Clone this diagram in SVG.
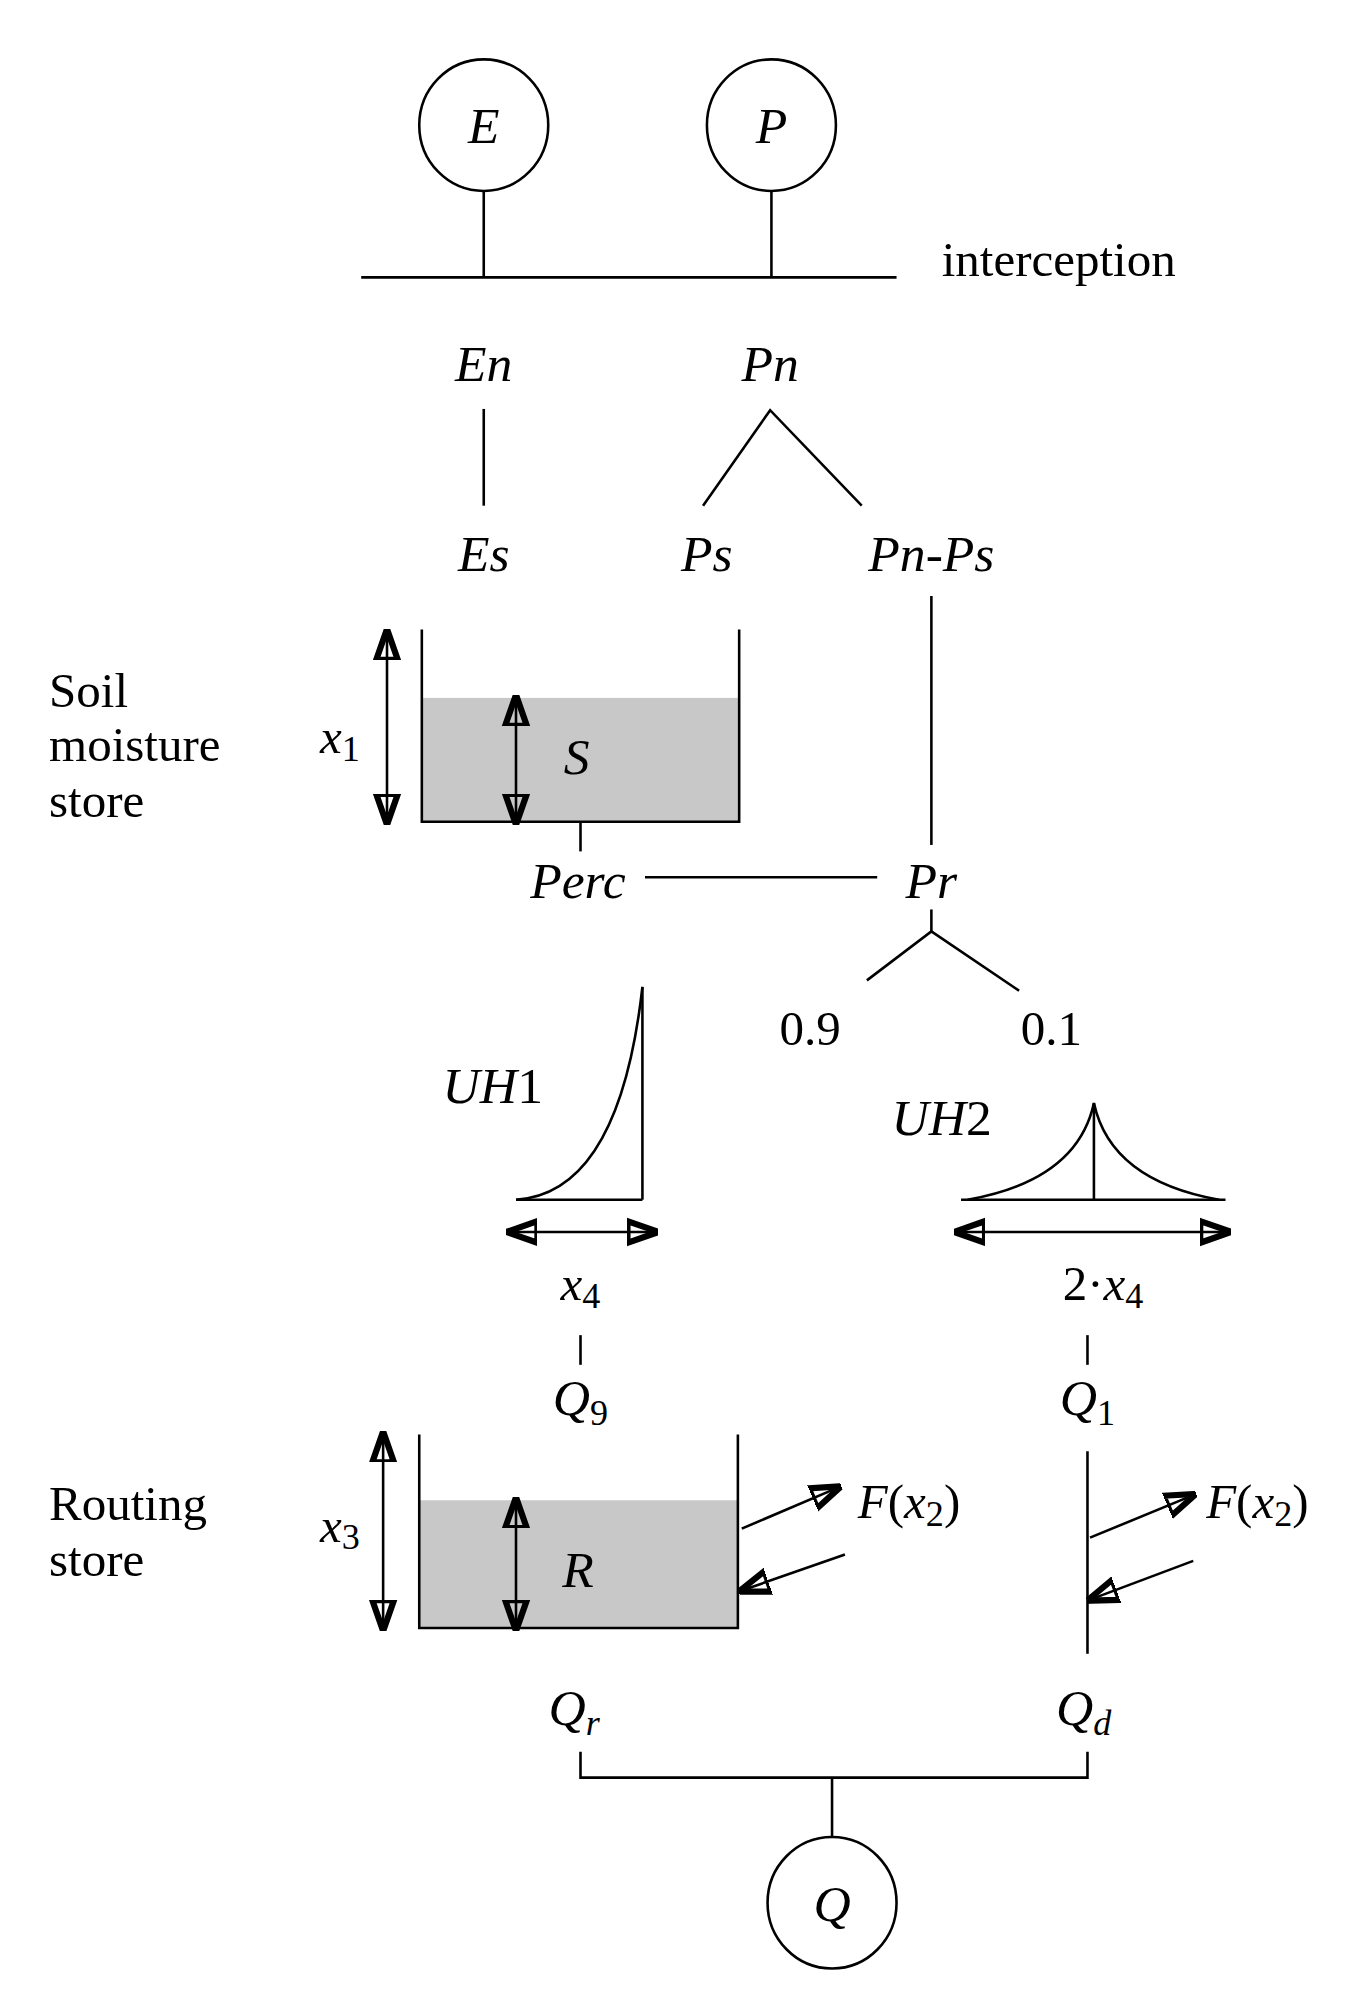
<svg xmlns="http://www.w3.org/2000/svg" width="1366" height="2016" viewBox="0 0 1366 2016">
<defs>
<marker id="ah" viewBox="0 0 10 10" refX="9" refY="5" markerWidth="10" markerHeight="10" markerUnits="userSpaceOnUse" orient="auto-start-reverse"><path d="M0,0 L10,5 L0,10 z" fill="#000"/></marker>
<marker id="ahb" viewBox="0 0 10 10" refX="9" refY="5" markerWidth="24" markerHeight="24" markerUnits="userSpaceOnUse" orient="auto-start-reverse"><path d="M0,1.5 L10,5 L0,8.5 z" fill="#000"/></marker>
<style>
text{font-family:"Liberation Serif",serif;fill:#000}
.i{font-style:italic;font-size:40px;text-anchor:middle}
.n{font-size:38px}
.c{text-anchor:middle}
line,path,ellipse{stroke:#000;stroke-width:2;fill:none}
.store{fill:#c8c8c8;stroke:none}
.arr{marker-start:url(#ahb);marker-end:url(#ahb)}
.a1{marker-end:url(#ahb)}
</style>
</defs>
<rect width="1366" height="2016" fill="#fff"/>
<g transform="scale(1.29)">
<g id="E"><ellipse cx="375" cy="97" rx="50" ry="51"/><text class="i" x="375" y="111">E</text></g>
<g id="P"><ellipse cx="598" cy="97" rx="50" ry="51"/><text class="i" x="598" y="111">P</text></g>
<g id="interception"><line x1="280" y1="215" x2="695" y2="215"/><text class="n" x="730" y="214">interception</text></g>
<g id="En"><text class="i" x="375" y="295">En</text></g>
<g id="Pn"><text class="i" x="597" y="295">Pn</text></g>
<g id="Es"><text class="i" x="375" y="443">Es</text></g>
<g id="Ps"><text class="i" x="548" y="443">Ps</text></g>
<g id="PnPs"><text class="i" x="722" y="443">Pn-Ps</text></g>
<g id="soil">
<rect class="store" x="327" y="541" width="246" height="96"/>
<path d="M327,488 V637 H573 V488"/>
<line class="arr" x1="300" y1="490" x2="300" y2="637"/>
<line class="arr" x1="400" y1="541" x2="400" y2="637"/>
<text class="i" x="447" y="600">S</text>
<text class="n" x="248" y="584" font-style="italic">x<tspan font-size="28" dy="6" font-style="normal">1</tspan></text>
<text class="n" x="38" y="548">Soil</text><text class="n" x="38" y="590">moisture</text><text class="n" x="38" y="633">store</text>
</g>
<g id="Perc"><text class="i" x="448" y="696">Perc</text></g>
<g id="Pr"><text class="i" x="722" y="696">Pr</text></g>
<g id="split"><text class="n c" x="628" y="810">0.9</text><text class="n c" x="815" y="810">0.1</text></g>
<g id="UH1">
<line x1="498" y1="765" x2="498" y2="930"/>
<path d="M400,930 Q480,925 498,765"/>
<line x1="400" y1="930" x2="498" y2="930"/>
<line class="arr" x1="395" y1="955" x2="508" y2="955"/>
<text class="i" x="382" y="855">UH<tspan font-style="normal">1</tspan></text>
<text class="n c" x="450" y="1008" font-style="italic">x<tspan font-size="28" dy="6" font-style="normal">4</tspan></text>
</g>
<g id="UH2">
<line x1="745" y1="930" x2="950" y2="930"/>
<path d="M750,930 Q835,915 848,855 Q861,915 945,930"/>
<line x1="848" y1="855" x2="848" y2="930"/>
<line class="arr" x1="742" y1="955" x2="952" y2="955"/>
<text class="i" x="730" y="880">UH<tspan font-style="normal">2</tspan></text>
<text class="n c" x="855" y="1008">2·<tspan font-style="italic">x</tspan><tspan font-size="28" dy="6">4</tspan></text>
</g>
<g id="Q9"><text class="i" x="450" y="1097">Q<tspan font-size="28" dy="8" font-style="normal">9</tspan></text></g>
<g id="Q1"><text class="i" x="843" y="1097">Q<tspan font-size="28" dy="8" font-style="normal">1</tspan></text></g>
<g id="routing">
<rect class="store" x="325" y="1163" width="247" height="99"/>
<path d="M325,1112 V1262 H572 V1112"/>
<line class="arr" x1="297" y1="1112" x2="297" y2="1262"/>
<line class="arr" x1="400" y1="1163" x2="400" y2="1262"/>
<text class="i" x="448" y="1230">R</text>
<text class="n" x="248" y="1195" font-style="italic">x<tspan font-size="28" dy="6" font-style="normal">3</tspan></text>
<text class="n" x="38" y="1178">Routing</text><text class="n" x="38" y="1222">store</text>
<line class="a1" x1="575" y1="1185" x2="650" y2="1153"/>
<line class="a1" x1="655" y1="1205" x2="575" y2="1233"/>
<text class="n" x="665" y="1177"><tspan font-style="italic">F</tspan>(<tspan font-style="italic">x</tspan><tspan font-size="28" dy="6">2</tspan><tspan dy="-6">)</tspan></text>
</g>
<g id="direct">
<line x1="843" y1="1125" x2="843" y2="1282"/>
<line class="a1" x1="845" y1="1192" x2="925" y2="1159"/>
<line class="a1" x1="925" y1="1210" x2="845" y2="1240"/>
<text class="n" x="935" y="1177"><tspan font-style="italic">F</tspan>(<tspan font-style="italic">x</tspan><tspan font-size="28" dy="6">2</tspan><tspan dy="-6">)</tspan></text>
</g>
<g id="Qr"><text class="i" x="445" y="1337">Q<tspan font-size="28" dy="8">r</tspan></text></g>
<g id="Qd"><text class="i" x="840" y="1337">Q<tspan font-size="28" dy="8">d</tspan></text></g>
<g id="Q"><ellipse cx="645" cy="1475" rx="50" ry="51"/><text class="i" x="645" y="1489">Q</text></g>
<g id="connectors">
<line x1="375" y1="148" x2="375" y2="215"/>
<line x1="598" y1="148" x2="598" y2="215"/>
<line x1="375" y1="317" x2="375" y2="392"/>
<path d="M545,392 L597,318 L668,392"/>
<line x1="722" y1="462" x2="722" y2="655"/>
<line x1="450" y1="637" x2="450" y2="660"/>
<line x1="500" y1="680" x2="680" y2="680"/>
<path d="M672,760 L722,722 L790,768"/>
<line x1="722" y1="705" x2="722" y2="722"/>
<line x1="450" y1="1035" x2="450" y2="1058"/>
<line x1="843" y1="1035" x2="843" y2="1058"/>
<path d="M450,1358 V1378 H843 V1358"/>
<line x1="645" y1="1378" x2="645" y2="1424"/>
</g>
</g>
</svg>
